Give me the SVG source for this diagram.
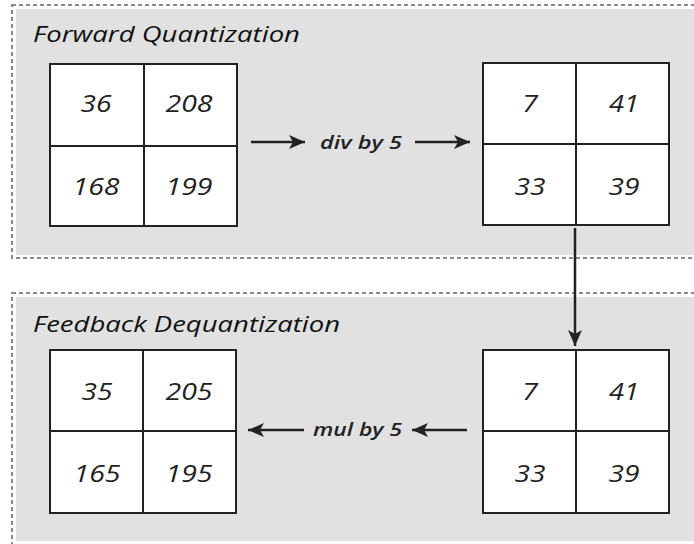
<svg xmlns="http://www.w3.org/2000/svg" width="694" height="544" viewBox="0 0 694 544">
<style>
.panel{fill:#e1e1e1;stroke:none}
.dash{fill:none;stroke:#8a8a8a;stroke-width:2;stroke-dasharray:4 3}
.cell{fill:#fff;stroke:#222;stroke-width:2}
.ln{stroke:#222;stroke-width:2}
.num{font-family:"Open Sans","DejaVu Sans",sans-serif;font-style:italic;font-size:24px;fill:#222;text-anchor:middle}
.title{font-family:"Open Sans","DejaVu Sans",sans-serif;font-style:italic;font-size:21px;fill:#111}
.lbl{font-family:"Open Sans","DejaVu Sans",sans-serif;font-style:italic;font-weight:600;font-size:18px;fill:#222}
.arr{stroke:#222;stroke-width:2.5;fill:none;marker-end:url(#ah)}
</style>
<defs>
<marker id="ah" markerUnits="userSpaceOnUse" markerWidth="18" markerHeight="16" refX="16" refY="8" orient="auto">
<path d="M0,1 L16,8 L0,15 L4,8 Z" fill="#222"/>
</marker>
</defs>
<rect width="694" height="544" fill="#fff"/>
<g id="panel-forward">
<rect class="dash" x="12" y="5" width="700" height="253"/>
<rect class="panel" x="16" y="9" width="690" height="246"/>
<text class="title" x="33" y="42" textLength="267" lengthAdjust="spacingAndGlyphs">Forward Quantization</text>
</g>
<g id="panel-feedback">
<rect class="dash" x="12" y="293" width="700" height="270"/>
<rect class="panel" x="16" y="297" width="690" height="244"/>
<text class="title" x="33" y="332" textLength="307" lengthAdjust="spacingAndGlyphs">Feedback Dequantization</text>
</g>
<g id="grid-input">
<rect class="cell" x="50" y="64" width="187" height="162"/>
<line class="ln" x1="144" y1="64" x2="144" y2="226"/>
<line class="ln" x1="50" y1="146" x2="237" y2="146"/>
<text class="num" x="96" y="112" textLength="31" lengthAdjust="spacingAndGlyphs">36</text>
<text class="num" x="189" y="112" textLength="47" lengthAdjust="spacingAndGlyphs">208</text>
<text class="num" x="96" y="195" textLength="47" lengthAdjust="spacingAndGlyphs">168</text>
<text class="num" x="189" y="195" textLength="47" lengthAdjust="spacingAndGlyphs">199</text>
</g>
<g id="grid-quantized">
<rect class="cell" x="483" y="63" width="186" height="162"/>
<line class="ln" x1="576" y1="63" x2="576" y2="225"/>
<line class="ln" x1="483" y1="144" x2="669" y2="144"/>
<text class="num" x="530" y="112" textLength="16" lengthAdjust="spacingAndGlyphs">7</text>
<text class="num" x="624" y="112" textLength="30" lengthAdjust="spacingAndGlyphs">41</text>
<text class="num" x="530" y="195" textLength="31" lengthAdjust="spacingAndGlyphs">33</text>
<text class="num" x="624" y="195" textLength="31" lengthAdjust="spacingAndGlyphs">39</text>
</g>
<g id="grid-feedback">
<rect class="cell" x="483" y="350" width="186" height="163"/>
<line class="ln" x1="576" y1="350" x2="576" y2="513"/>
<line class="ln" x1="483" y1="431" x2="669" y2="431"/>
<text class="num" x="530" y="400" textLength="16" lengthAdjust="spacingAndGlyphs">7</text>
<text class="num" x="624" y="400" textLength="30" lengthAdjust="spacingAndGlyphs">41</text>
<text class="num" x="530" y="482" textLength="31" lengthAdjust="spacingAndGlyphs">33</text>
<text class="num" x="624" y="482" textLength="31" lengthAdjust="spacingAndGlyphs">39</text>
</g>
<g id="grid-dequantized">
<rect class="cell" x="50" y="350" width="186" height="163"/>
<line class="ln" x1="143" y1="350" x2="143" y2="513"/>
<line class="ln" x1="50" y1="431" x2="236" y2="431"/>
<text class="num" x="97" y="400" textLength="31" lengthAdjust="spacingAndGlyphs">35</text>
<text class="num" x="189" y="400" textLength="47" lengthAdjust="spacingAndGlyphs">205</text>
<text class="num" x="97" y="482" textLength="47" lengthAdjust="spacingAndGlyphs">165</text>
<text class="num" x="189" y="482" textLength="47" lengthAdjust="spacingAndGlyphs">195</text>
</g>
<g id="connectors">
<line class="arr" x1="251" y1="142" x2="305" y2="142"/>
<text class="lbl" x="320" y="149" textLength="82" lengthAdjust="spacingAndGlyphs">div by 5</text>
<line class="arr" x1="415" y1="142" x2="470" y2="142"/>
<line class="arr" x1="575" y1="228" x2="575" y2="346"/>
<line class="arr" x1="467" y1="430" x2="412" y2="430"/>
<text class="lbl" x="313" y="436" textLength="89" lengthAdjust="spacingAndGlyphs">mul by 5</text>
<line class="arr" x1="304" y1="430" x2="248" y2="430"/>
</g>
</svg>
